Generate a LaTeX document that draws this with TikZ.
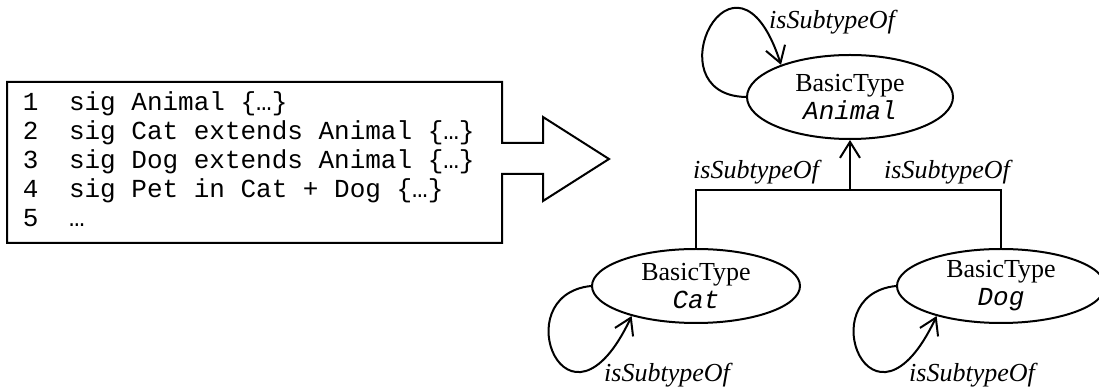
\documentclass[tikz,border=0pt]{standalone}
\usepackage{fontspec}
\setmainfont{Liberation Serif}
\newfontfamily\codefont{Liberation Mono}
\usetikzlibrary{shapes.geometric}
\usetikzlibrary{arrows.meta}
\tikzset{cl/.style={font=\codefont\fontsize{13}{13}\selectfont, inner sep=0pt, anchor=base west}}
\tikzset{bt/.style={ellipse, draw, minimum width=104pt, minimum height=37pt, inner sep=0pt,
  align=center, font=\fontsize{13}{14}\selectfont}}
\tikzset{l/.style={font=\fontsize{13}{13}\selectfont\itshape, inner sep=1pt}}

\begin{document}
\begin{tikzpicture}[x=0.5pt, y=-0.5pt, line width=1pt, >={Straight Barb[length=8pt,width=10pt]}]
  \useasboundingbox (0,0) rectangle (1099,389);
  % code with the big arrow
  \draw (7,82) -- (502,82) -- (502,143) -- (543,143) -- (543,117) -- (609,159)
    -- (543,201) -- (543,174) -- (502,174) -- (502,243) -- (7,243) -- cycle;
  \foreach \i/\s in {1/{sig Animal \{…\}}, 2/{sig Cat extends Animal \{…\}},
      3/{sig Dog extends Animal \{…\}}, 4/{sig Pet in Cat + Dog \{…\}}, 5/…} {
    \node[cl] (n\i) at (22, 82+29*\i) {\i};
    \node[cl] (s\i) at (68, 82+29*\i) {\s};
  }
  % types
  \node[bt, minimum width=103pt, minimum height=42pt] (animal) at (850,97)
    {BasicType\\{\codefont\itshape Animal}};
  \node[bt] (cat) at (696,286) {BasicType\\{\codefont\itshape Cat}};
  \node[bt] (dog) at (1001,286) {BasicType\\{\codefont\itshape Dog}};
  \coordinate (junc) at (850,190);
  \draw (cat.north) |- (junc) -| (dog.north);
  \draw[->] (junc) -- (animal.south);
  \node[l] (la) at (756,172) {isSubtypeOf};
  \node[l] (lb) at (947,172) {isSubtypeOf};
  % self loops
  \draw[->] (animal.west) .. controls +(-96,-2) and +(-46,-142) .. (animal.155);
  \node[l] (lc) at (832,22) {isSubtypeOf};
  \draw[->] (cat.west) .. controls +(-87,9) and +(-64,136) .. (cat.205);
  \node[l] (ld) at (667,375) {isSubtypeOf};
  \draw[->] (dog.west) .. controls +(-87,9) and +(-64,136) .. (dog.205);
  \node[l] (le) at (972,375) {isSubtypeOf};
\end{tikzpicture}
\end{document}
